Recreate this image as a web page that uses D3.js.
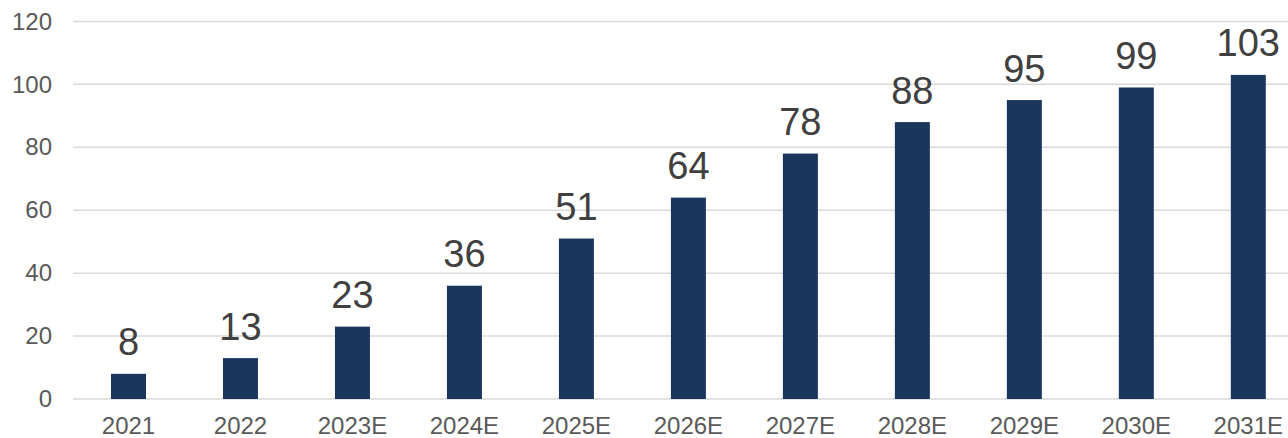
<!DOCTYPE html>
<html>
<head>
<meta charset="utf-8">
<script src="https://cdn.jsdelivr.net/npm/d3@7"></script>
<style>
  html, body { margin: 0; padding: 0; background: #fff; }
  svg { display: block; }
  text { font-family: "Liberation Sans", Arial, sans-serif; }
</style>
</head>
<body>
<svg id="chart" width="1288" height="438"></svg>
<script>
const categories = ["2021", "2022", "2023E", "2024E", "2025E", "2026E", "2027E", "2028E", "2029E", "2030E", "2031E"];
const values = [8, 13, 23, 36, 51, 64, 78, 88, 95, 99, 103];
const yTicks = [0, 20, 40, 60, 80, 100, 120];

const svg = d3.select("#chart");
const W = 1288, H = 438;

const x = d3.scaleBand()
  .domain(categories)
  .range([72.5, 1304.3])
  .paddingInner(0.6875)
  .paddingOuter(0.34375);

const y = d3.scaleLinear()
  .domain([0, 120])
  .range([399, 21.4]);

// gridlines
svg.append("g")
  .selectAll("line")
  .data(yTicks)
  .join("line")
  .attr("x1", 73)
  .attr("x2", W)
  .attr("y1", d => y(d))
  .attr("y2", d => y(d))
  .attr("stroke", "#d9d9d9")
  .attr("stroke-width", 1.5);

// y axis labels
const yAxis = d3.axisLeft(y).tickValues(yTicks).tickSize(0).tickPadding(0);
const gy = svg.append("g").attr("transform", "translate(52,0)").call(yAxis);
gy.select(".domain").remove();
gy.selectAll("text")
  .attr("font-family", "'Liberation Sans', Arial, sans-serif")
  .attr("font-size", 24)
  .attr("fill", "#595959");

// bars
svg.append("g")
  .selectAll("rect")
  .data(values)
  .join("rect")
  .attr("x", (d, i) => x(categories[i]))
  .attr("width", x.bandwidth())
  .attr("y", d => y(d))
  .attr("height", d => y(0) - y(d))
  .attr("fill", "#1b365d");

// value labels
svg.append("g")
  .selectAll("text")
  .data(values)
  .join("text")
  .attr("x", (d, i) => x(categories[i]) + x.bandwidth() / 2)
  .attr("y", d => y(d) - 18.5)
  .attr("text-anchor", "middle")
  .attr("font-size", 38)
  .attr("fill", "#404040")
  .text(d => d);

// x axis labels
const xAxis = d3.axisBottom(x).tickSize(0).tickPadding(0);
const gx = svg.append("g").attr("transform", "translate(0,417)").call(xAxis);
gx.select(".domain").remove();
gx.selectAll("text")
  .attr("font-family", "'Liberation Sans', Arial, sans-serif")
  .attr("font-size", 24)
  .attr("fill", "#595959");
</script>
</body>
</html>
